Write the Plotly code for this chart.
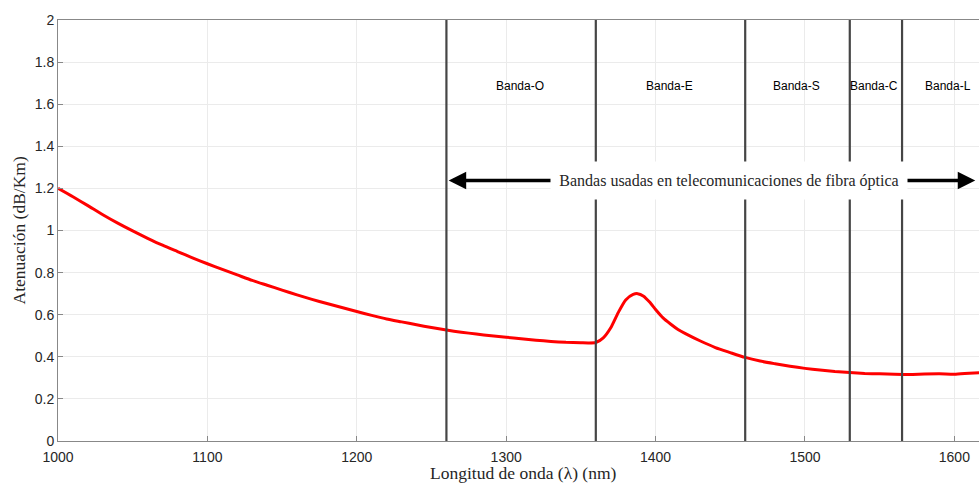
import plotly.graph_objects as go

wavelength_nm = [1000, 1010, 1020, 1030, 1040, 1050, 1060, 1070, 1080, 1090,
                 1100, 1110, 1120, 1130, 1140, 1150, 1160, 1170, 1180, 1190,
                 1200, 1210, 1220, 1230, 1240, 1250, 1260, 1270, 1280, 1290,
                 1300, 1310, 1320, 1330, 1340, 1350, 1355, 1360, 1365, 1370,
                 1375, 1380, 1385, 1388, 1392, 1396, 1400, 1405, 1410, 1415,
                 1420, 1430, 1440, 1450, 1460, 1470, 1480, 1490, 1500, 1510,
                 1520, 1530, 1540, 1550, 1560, 1570, 1580, 1590, 1600, 1610, 1620]
attenuation = [1.200, 1.160, 1.118, 1.075, 1.035, 0.998, 0.963, 0.930, 0.900, 0.870,
               0.842, 0.815, 0.789, 0.763, 0.740, 0.717, 0.694, 0.673, 0.653, 0.634,
               0.615, 0.597, 0.580, 0.566, 0.552, 0.539, 0.527, 0.517, 0.508, 0.500,
               0.493, 0.486, 0.479, 0.473, 0.469, 0.467, 0.466, 0.468, 0.490, 0.538,
               0.610, 0.670, 0.696, 0.700, 0.688, 0.660, 0.625, 0.585, 0.556, 0.530,
               0.510, 0.475, 0.444, 0.420, 0.397, 0.380, 0.367, 0.355, 0.345, 0.337,
               0.330, 0.325, 0.321, 0.319, 0.317, 0.316, 0.318, 0.319, 0.317, 0.322, 0.326]

band_edges = [1260, 1360, 1460, 1530, 1565]
band_names = ["Banda-O", "Banda-E", "Banda-S", "Banda-C", "Banda-L"]
band_label_x = [1309.5, 1409, 1494.5, 1546.5, 1595.5]
band_label_y = 1.685

x_ticks = [1000, 1100, 1200, 1300, 1400, 1500, 1600]
y_ticks = [0, 0.2, 0.4, 0.6, 0.8, 1, 1.2, 1.4, 1.6, 1.8, 2]
y_tick_text = ["0", "0.2", "0.4", "0.6", "0.8", "1", "1.2", "1.4", "1.6", "1.8", "2"]

x_title = "Longitud de onda (λ) (nm)"
y_title = "Atenuación (dB/Km)"

x_range = [1000, 1616.5]
arrow_y = 1.237
banner_text = "Bandas usadas en telecomunicaciones de fibra óptica"
banner_x = 1449

fig = go.Figure()
fig.add_trace(go.Scatter(x=wavelength_nm, y=attenuation, mode="lines",
                         line=dict(color="#ff0000", width=3, shape="spline", smoothing=0.6),
                         showlegend=False, hoverinfo="x+y"))

shapes = []
for e in band_edges:
    shapes.append(dict(type="line", xref="x", yref="y", x0=e, x1=e, y0=0, y1=2,
                       line=dict(color="#454545", width=2.2), layer="above"))

annotations = []
for name, bx in zip(band_names, band_label_x):
    annotations.append(dict(x=bx, y=band_label_y, xref="x", yref="y", text=name,
                            showarrow=False,
                            font=dict(family="Liberation Sans, Arial", size=12, color="#000000")))

# arrows
annotations.append(dict(x=1261.5, y=arrow_y, ax=banner_x, ay=arrow_y, xref="x", yref="y",
                        axref="x", ayref="y", text="", showarrow=True,
                        arrowhead=2, arrowsize=1.0, arrowwidth=3.5, arrowcolor="#000000"))
annotations.append(dict(x=1614, y=arrow_y, ax=banner_x, ay=arrow_y, xref="x", yref="y",
                        axref="x", ayref="y", text="", showarrow=True,
                        arrowhead=2, arrowsize=1.0, arrowwidth=3.5, arrowcolor="#000000"))
annotations.append(dict(x=banner_x, y=arrow_y, xref="x", yref="y", text=banner_text,
                        showarrow=False, bgcolor="#ffffff", width=354, height=35,
                        font=dict(family="Liberation Serif, DejaVu Serif", size=16, color="#262626")))

# axis titles
annotations.append(dict(x=-0.0424, y=0.5, xref="paper", yref="paper", text=y_title,
                        textangle=-90, showarrow=False, xanchor="center", yanchor="middle",
                        font=dict(family="Liberation Serif, DejaVu Serif", size=17.5, color="#262626")))
annotations.append(dict(x=0.505, y=-0.076, xref="paper", yref="paper", text=x_title,
                        showarrow=False, xanchor="center", yanchor="middle", borderpad=0,
                        font=dict(family="Liberation Serif, DejaVu Serif", size=17.5, color="#262626")))

fig.update_layout(
    width=979, height=484,
    margin=dict(l=58, r=0, t=20, b=43),
    paper_bgcolor="#ffffff", plot_bgcolor="#ffffff",
    shapes=shapes, annotations=annotations,
    xaxis=dict(range=x_range, tickvals=x_ticks, ticks="inside", ticklen=5, automargin=False,
               tickcolor="#888888", showline=True, linecolor="#888888", linewidth=1,
               mirror=True, showgrid=True, gridcolor="#ebebeb", gridwidth=1, zeroline=False,
               ticklabelstandoff=3,
               tickfont=dict(family="Liberation Sans, Arial", size=14, color="#262626")),
    yaxis=dict(range=[0, 2], tickvals=y_ticks, ticktext=y_tick_text, ticks="inside", ticklen=5,
               automargin=False,
               tickcolor="#888888", showline=True, linecolor="#888888", linewidth=1,
               showgrid=True, gridcolor="#ebebeb", gridwidth=1, zeroline=False,
               tickfont=dict(family="Liberation Sans, Arial", size=14, color="#262626")),
)

fig.write_html("out.html", config={"displayModeBar": False},
               post_script="document.body.style.margin='0';document.body.style.overflow='hidden';")
